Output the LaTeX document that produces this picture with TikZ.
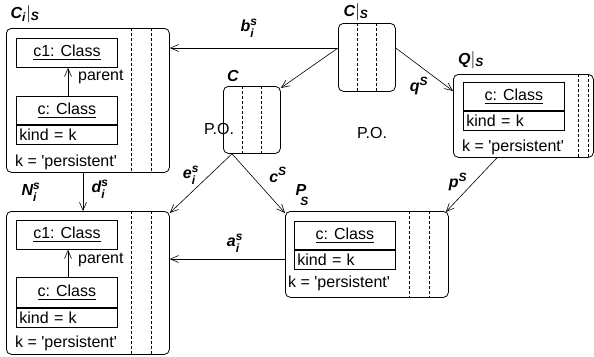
\documentclass[tikz,border=0pt]{standalone}
\usepackage{amsmath}
\usepackage{fontspec}
\setmainfont{Liberation Sans}
\usetikzlibrary{arrows.meta,calc}
\newcommand{\smx}[1]{\text{\fontsize{12}{12}\selectfont #1}}
\tikzset{
  outer/.style={draw, rounded corners=5pt, line width=0.8pt, anchor=north west, inner sep=0pt},
  cls/.style={draw, line width=0.8pt, anchor=north west, minimum width=101pt, inner sep=1pt},
  attr/.style={cls, minimum height=19pt, text width=95pt, inner xsep=3pt, align=left},
  dsh/.style={densely dashed, line width=0.5pt},
  arr/.style={-{Straight Barb[length=8pt,width=7pt]}, line width=0.6pt},
  lbl/.style={font=\fontsize{16}{16}\selectfont\bfseries\itshape, inner sep=0pt},
  txt/.style={font=\fontsize{16}{18}\selectfont, inner sep=0pt},
}
\begin{document}
\begin{tikzpicture}[x=1pt,y=-1pt, every node/.append style={font=\fontsize{16}{18}\selectfont}]
\useasboundingbox (0,0) rectangle (594,356);

% ---------- C_i|_S ----------
\node[outer, minimum width=163pt, minimum height=144pt] (Ci) at (6,28) {};
\draw[dsh] (131,28) -- (131,172);
\draw[dsh] (151,28) -- (151,172);
\node[cls, minimum height=29pt] (c1a) at (16,38) {\underline{c1: Class}};
\node[cls, minimum height=28pt] (ca) at (16,96) {\underline{c: Class}};
\node[attr] (ka) at (ca.south west) {kind = k};
\draw[arr] (ca.north -| 68,0) coordinate (pa0) -- (pa0 |- c1a.south);
\node[txt, anchor=west] (pla) at (78,77) {parent};
\node[txt, anchor=west] (kpa) at (15,162) {k = \textquotesingle persistent\textquotesingle};
\node[lbl] (lCi) at (25,14) {C$_{\smx{i}}|_{\smx{S}}$};

% ---------- N_i^S ----------
\node[outer, minimum width=163pt, minimum height=143pt] (N) at (6,211) {};
\draw[dsh] (131,211) -- (131,354);
\draw[dsh] (151,211) -- (151,354);
\node[cls, minimum height=29pt] (c1b) at (16,220) {\underline{c1: Class}};
\node[cls, minimum height=30pt] (cb) at (16,277) {\underline{c: Class}};
\node[attr] (kb) at (cb.south west) {kind = k};
\draw[arr] (cb.north -| 68,0) coordinate (pb0) -- (pb0 |- c1b.south);
\node[txt, anchor=west] (plb) at (78,260) {parent};
\node[txt, anchor=west] (kpb) at (15,343) {k = \textquotesingle persistent\textquotesingle};
\node[lbl] (lN) at (31,192) {N$_{\smx{i}}^{\smx{s}}$};

% ---------- C|_S ----------
\node[outer, minimum width=57pt, minimum height=68pt] (CS) at (338,23) {};
\draw[dsh] (357,23) -- (357,91);
\draw[dsh] (376,23) -- (376,91);
\node[lbl] (lCS) at (356,12) {C$|_{\smx{S}}$};

% ---------- C ----------
\node[outer, minimum width=57pt, minimum height=67pt] (C) at (223,86) {};
\draw[dsh] (242,86) -- (242,153);
\draw[dsh] (261,86) -- (261,153);
\node[lbl] (lC) at (233,76) {C};

% ---------- Q|_S ----------
\node[outer, minimum width=140pt, minimum height=83pt] (Q) at (453,74) {};
\draw[dsh] (578,74) -- (578,157);
\draw[dsh] (588,74) -- (588,157);
\node[cls, minimum height=28pt] (cq) at (463,82) {\underline{c: Class}};
\node[attr] (kq) at (cq.south west) {kind = k};
\node[txt, anchor=west] (kpq) at (462,147) {k = \textquotesingle persistent\textquotesingle};
\node[lbl] (lQ) at (471,60) {Q$|_{\smx{S}}$};

% ---------- P_S ----------
\node[outer, minimum width=163pt, minimum height=86pt] (P) at (285,211) {};
\draw[dsh] (409,211) -- (409,297);
\draw[dsh] (429,211) -- (429,297);
\node[cls, minimum height=28pt] (cp) at (294,221) {\underline{c: Class}};
\node[attr] (kp) at (cp.south west) {kind = k};
\node[txt, anchor=west] (kpp) at (288,283) {k = \textquotesingle persistent\textquotesingle};
\node[lbl] (lP) at (302,195) {P\kern-6pt\raisebox{-10pt}{\fontsize{12}{12}\selectfont S}};

% ---------- connectors ----------
\draw[arr] ($(CS.north west)+(0,25)$) coordinate (b0) -- (b0 -| Ci.east);
\node[lbl] (lb) at (249,28) {b$_{\smx{i}}^{\smx{s}}$};
\draw[arr] (b0) -- ($(C.north east)+(0,2)$);
\draw[arr] ($(CS.north east)+(0,25)$) -- ($(Q.north west)+(0,17)$);
\node[lbl] (lq) at (419,86) {q$^{\smx{S}}$};
\draw[arr] ($(Q.south west)+(44,0)$) -- ($(P.north east)+(-3,1)$);
\node[lbl] (lp) at (458,182) {p$^{\smx{S}}$};
\draw[arr] ($(C.south west)+(9,0)$) coordinate (e0) -- ($(N.north east)+(0,2)$);
\node[lbl] (le) at (191,175) {e$_{\smx{i}}^{\smx{s}}$};
\draw[arr] (e0) -- ($(P.north west)+(0,2)$);
\node[lbl] (lc) at (278,175) {c$^{\smx{S}}$};
\draw[arr] ($(P.north west)+(0,48)$) coordinate (a0) -- (a0 -| N.east);
\node[lbl] (la) at (235,243) {a$_{\smx{i}}^{\smx{s}}$};
\draw[arr] ($(Ci.south west)+(77,0)$) coordinate (d0) -- (d0 |- N.north);
\node[lbl] (ld) at (100,189) {d$_{\smx{i}}^{\smx{s}}$};

\node[txt] (po1) at (219,129) {P.O.};
\node[txt] (po2) at (372,133) {P.O.};
\end{tikzpicture}
\end{document}
